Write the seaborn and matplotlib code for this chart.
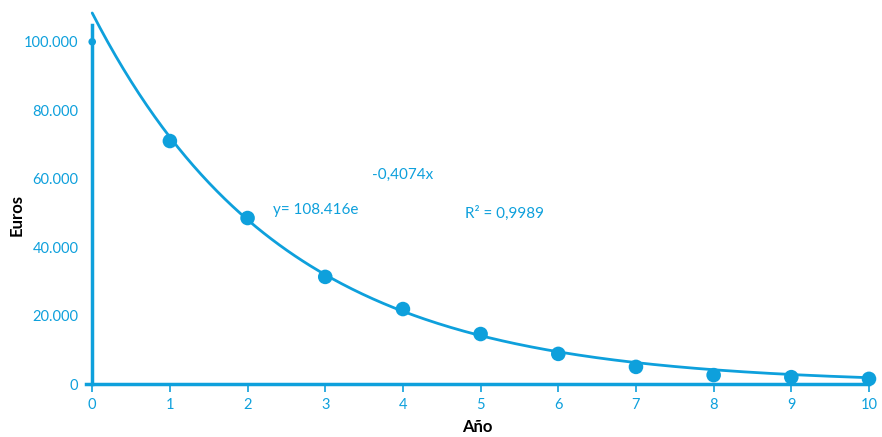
import numpy as np
import pandas as pd
import seaborn as sns
import matplotlib
matplotlib.use("Agg")
import matplotlib.pyplot as plt
from matplotlib.ticker import FuncFormatter

# Data
years = [0, 1, 2, 3, 4, 5, 6, 7, 8, 9, 10]
euros = [100000, 71000, 48500, 31300, 21900, 14600, 8800, 5000, 2600, 2000, 1500]
fit_a = 108416
fit_b = -0.4074
eq_left = "y= 108.416e"
eq_exp = "-0,4074x"
r2_text = "R² = 0,9989"
xticks = list(range(0, 11))
yticks = [0, 20000, 40000, 60000, 80000, 100000]

COLOR = "#0ea0dc"

sns.set_theme(style="white")
plt.rcParams['font.family'] = ['Lato', 'DejaVu Sans']

fig = plt.figure(figsize=(8.82, 4.37), dpi=100)
ax = fig.add_axes([86/882, 53/437, 783/882, 373/437])

# Trendline from the fit given on the chart
tx = np.linspace(0, 10, 300)
trend = pd.DataFrame({"x": tx, "y": fit_a * np.exp(fit_b * tx)})
sns.lineplot(data=trend, x="x", y="y", ax=ax, color=COLOR, linewidth=2, clip_on=False)

df = pd.DataFrame({"Año": years, "Euros": euros})
sns.scatterplot(data=df.iloc[1:], x="Año", y="Euros", ax=ax, color=COLOR, s=110,
                edgecolor="none", clip_on=False, zorder=5)
sns.scatterplot(data=df.iloc[:1], x="Año", y="Euros", ax=ax, color=COLOR, s=30,
                edgecolor="none", clip_on=False, zorder=5)

ax.set_xlim(-0.08, 10)
ax.set_ylim(0, 109000)

for s in ["top", "right"]:
    ax.spines[s].set_visible(False)
ax.spines["left"].set_position(("data", 0))
ax.spines["left"].set_color(COLOR)
ax.spines["left"].set_linewidth(2.5)
ax.spines["left"].set_bounds(0, 105000)
ax.spines["bottom"].set_color(COLOR)
ax.spines["bottom"].set_linewidth(2.5)

ax.set_xticks(xticks)
ax.set_yticks(yticks)
ax.yaxis.set_major_formatter(FuncFormatter(lambda v, p: f"{int(v):,}".replace(",", ".")))
ax.tick_params(axis="x", colors=COLOR, labelsize=10.5, length=6, width=1.2,
               direction="out", bottom=True, pad=4)
ax.tick_params(axis="y", colors=COLOR, labelsize=10.5, length=0, pad=10, left=False)

ax.set_xlabel("Año", fontsize=12, fontweight="bold", color="black")
ax.set_ylabel("Euros", fontsize=12, fontweight="bold", color="black")
ax.xaxis.set_label_coords(0.5, -0.093)
ax.yaxis.set_label_coords(-0.079, 0.453)

ax.text(2.33, 50900, eq_left, color=COLOR, fontsize=11, va="center", ha="left")
ax.text(3.60, 61100, eq_exp, color=COLOR, fontsize=11, va="center", ha="left")
ax.text(4.80, 50000, r2_text, color=COLOR, fontsize=11, va="center", ha="left")

ax.grid(False)
fig.savefig("out.png", dpi=100)
